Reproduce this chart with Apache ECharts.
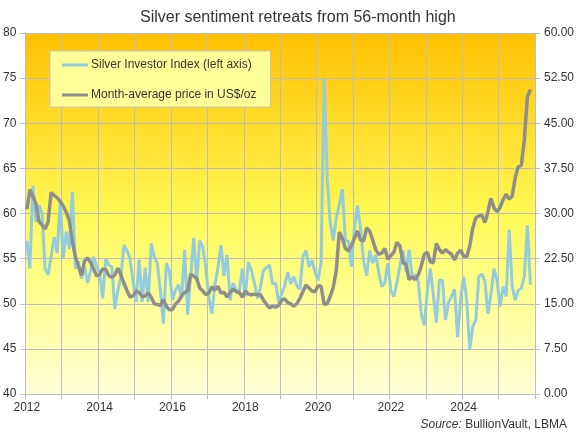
<!DOCTYPE html>
<html>
<head>
<meta charset="utf-8">
<script src="https://cdn.jsdelivr.net/npm/echarts@6/dist/echarts.min.js"></script>
<style>
html,body{margin:0;padding:0;background:#ffffff;}
#chart{width:577px;height:440px;}
</style>
</head>
<body>
<div id="chart"></div>
<script>
// Monthly categories Jan 2012 .. Dec 2025
const firstYear = 2012;
const lastYear = 2025;
const months = [];
for (let y = firstYear; y <= lastYear; y++) {
  for (let m = 1; m <= 12; m++) months.push(y + '-' + String(m).padStart(2, '0'));
}

// Silver Investor Index (left axis), Jan 2012 .. Nov 2025
const investorIndex = [
  57.0, 53.9, 63.1, 59.1, 60.9, 60.0, 53.9, 53.2, 55.2, 57.4, 55.6, 61.3,
  55.0, 58.0, 56.1, 62.4, 53.9, 54.7, 52.8, 54.1, 52.3, 53.6, 55.2, 54.1,
  53.4, 50.6, 55.0, 54.3, 54.1, 49.4, 51.5, 53.0, 56.5, 55.9, 55.0, 52.5,
  50.2, 54.9, 50.2, 54.0, 50.2, 56.7, 55.2, 54.5, 51.5, 47.8, 54.5, 53.6,
  50.4, 51.5, 52.1, 50.6, 56.0, 48.8, 53.0, 57.3, 52.5, 57.0, 56.3, 54.0,
  50.6, 48.9, 52.2, 54.0, 56.5, 53.1, 55.4, 50.4, 52.3, 51.5, 51.2, 53.9,
  50.8, 54.6, 53.7, 52.3, 50.6, 51.8, 53.7, 54.0, 54.3, 52.2, 52.3, 50.2,
  51.1, 52.0, 53.5, 52.2, 53.0, 52.0, 51.6, 55.2, 55.9, 54.1, 54.8, 53.5,
  52.6, 54.6, 75.0, 64.0, 59.0, 57.0, 59.5, 61.0, 62.7, 57.0, 56.9, 54.1,
  58.5, 60.9, 58.3, 54.8, 53.1, 55.9, 54.5, 55.4, 53.5, 51.9, 52.3, 54.5,
  51.4, 50.8, 52.4, 54.2, 55.9, 53.5, 56.0, 53.0, 53.2, 52.6, 48.9, 47.6,
  51.3, 53.9, 51.0, 47.9, 52.6, 52.6, 48.2, 50.1, 50.8, 51.6, 46.3, 50.5,
  53.0, 50.4, 44.9, 47.5, 48.2, 53.0, 53.3, 52.5, 48.9, 51.1, 53.9, 52.6,
  49.7, 51.9, 50.8, 58.2, 51.9, 50.4, 51.5, 51.7, 53.0, 58.7, 52.1
];

// Month-average silver price in US$/oz (right axis), Jan 2012 .. Nov 2025
const silverPrice = [
  30.7, 34.0, 32.8, 31.6, 28.7, 28.1, 27.4, 28.6, 33.5, 33.0, 32.6, 32.0,
  31.2, 30.2, 28.8, 25.4, 22.8, 21.2, 19.7, 22.1, 22.6, 21.9, 20.8, 19.6,
  19.9, 20.8, 20.7, 19.7, 19.4, 19.8, 20.9, 19.8, 18.4, 17.2, 16.1, 16.3,
  17.1, 16.9, 16.2, 16.3, 16.8, 16.1, 15.0, 14.9, 14.7, 15.7, 14.6, 14.0,
  14.0, 15.0, 15.4, 16.3, 16.9, 17.1, 19.9, 19.6, 19.2, 17.6, 17.1, 16.5,
  16.8, 17.8, 17.3, 17.9, 16.8, 16.9, 16.1, 16.9, 17.4, 17.0, 16.9, 16.1,
  17.1, 16.6, 16.5, 16.6, 16.5, 16.5, 15.6, 14.9, 14.3, 14.6, 14.4, 14.7,
  15.6, 15.8, 15.2, 15.0, 14.6, 15.0, 15.9, 17.0, 18.1, 17.6, 17.1, 17.0,
  18.0, 17.9, 14.9, 15.0, 16.2, 17.7, 20.5, 26.9, 25.9, 24.2, 23.8, 24.7,
  25.9, 27.1, 25.6, 25.4, 27.6, 27.1, 25.6, 24.0, 23.2, 23.4, 24.2, 22.4,
  23.0, 23.6, 25.2, 24.6, 21.8, 21.6, 19.0, 19.5, 19.0, 19.8, 21.2, 23.2,
  23.6, 22.0, 21.8, 25.0, 24.0, 23.4, 24.0, 23.6, 23.2, 22.3, 23.4, 23.9,
  22.9, 22.8, 24.6, 27.6, 29.3, 29.6, 29.7, 28.5, 30.3, 32.5, 30.9, 30.3,
  31.0, 32.3, 33.2, 32.4, 32.9, 36.0, 37.8, 38.0, 42.3, 49.4, 50.6
];

const seriesNames = ['Silver Investor Index (left axis)', 'Month-average price in US$/oz'];
const leftAxisRange = [40, 80, 5];
const rightAxisRange = [0, 60, 7.5];

const gridColor = '#bcbcc8';
const textColor = '#333333';
const font = 'Liberation Sans, Arial, sans-serif';

const chart = echarts.init(document.getElementById('chart'), null, {renderer: 'canvas'});
chart.setOption({
  animation: false,
  backgroundColor: '#ffffff',
  textStyle: {fontFamily: font},
  title: [
    {
      text: 'Silver sentiment retreats from 56-month high',
      left: 135, top: 5,
      textStyle: {fontSize: 16, fontWeight: 'normal', color: textColor, fontFamily: font}
    },
    {
      text: '{i|Source:} BullionVault, LBMA',
      right: 5, bottom: 4,
      textStyle: {
        fontSize: 12, fontWeight: 'normal', color: textColor, fontFamily: font,
        rich: {i: {fontStyle: 'italic', fontSize: 12, color: textColor, fontFamily: font}}
      }
    }
  ],
  legend: {
    data: seriesNames,
    orient: 'vertical',
    left: 50, top: 51,
    padding: [7, 14, 5, 12],
    itemGap: 16,
    itemWidth: 26, itemHeight: 3,
    icon: 'rect',
    backgroundColor: '#ffff99',
    borderColor: '#c4c4c4', borderWidth: 1,
    textStyle: {fontSize: 12, color: textColor, fontFamily: font, lineHeight: 14, padding: [0, 0, 0, -2]}
  },
  grid: {
    left: 25, right: 41, top: 33, bottom: 46,
    show: true,
    borderWidth: 0,
    backgroundColor: {
      type: 'linear', x: 0, y: 0, x2: 0, y2: 1,
      colorStops: [
        {offset: 0, color: '#ffc000'},
        {offset: 0.25, color: '#ffdc2a'},
        {offset: 0.5, color: '#fff955'},
        {offset: 0.72, color: '#ffff90'},
        {offset: 1, color: '#ffffd8'}
      ]
    }
  },
  xAxis: {
    type: 'category',
    data: months,
    boundaryGap: true,
    axisLine: {show: true, lineStyle: {color: gridColor, width: 1}},
    axisTick: {show: true, length: 5, lineStyle: {color: gridColor}, interval: (i) => i % 12 === 0},
    splitLine: {show: true, lineStyle: {color: gridColor, width: 1}, interval: (i) => i % 12 === 0},
    axisLabel: {
      interval: (i) => i % 24 === 0,
      formatter: (v) => v.slice(0, 4),
      color: textColor, fontSize: 12, margin: 8, fontFamily: font
    }
  },
  yAxis: [
    {
      type: 'value',
      min: leftAxisRange[0], max: leftAxisRange[1], interval: leftAxisRange[2],
      position: 'left',
      axisLine: {show: true, lineStyle: {color: gridColor}},
      axisTick: {show: true, length: 5, lineStyle: {color: gridColor}},
      splitLine: {show: true, lineStyle: {color: gridColor, width: 1}},
      axisLabel: {color: textColor, fontSize: 12, margin: 9, fontFamily: font}
    },
    {
      type: 'value',
      min: rightAxisRange[0], max: rightAxisRange[1], interval: rightAxisRange[2],
      position: 'right',
      axisLine: {show: true, lineStyle: {color: gridColor}},
      axisTick: {show: true, length: 5, lineStyle: {color: gridColor}},
      splitLine: {show: false},
      axisLabel: {color: textColor, fontSize: 12, margin: 9, fontFamily: font, formatter: (v) => v.toFixed(2)}
    }
  ],
  series: [
    {
      name: seriesNames[0], type: 'line', yAxisIndex: 0,
      data: investorIndex, symbol: 'none', smooth: false,
      itemStyle: {color: '#93cddd'},
      lineStyle: {color: '#93cddd', width: 3}
    },
    {
      name: seriesNames[1], type: 'line', yAxisIndex: 1,
      data: silverPrice, symbol: 'none', smooth: false,
      itemStyle: {color: '#8e8e8e'},
      lineStyle: {color: '#8e8e8e', width: 3.5}
    }
  ]
});
</script>
</body>
</html>
